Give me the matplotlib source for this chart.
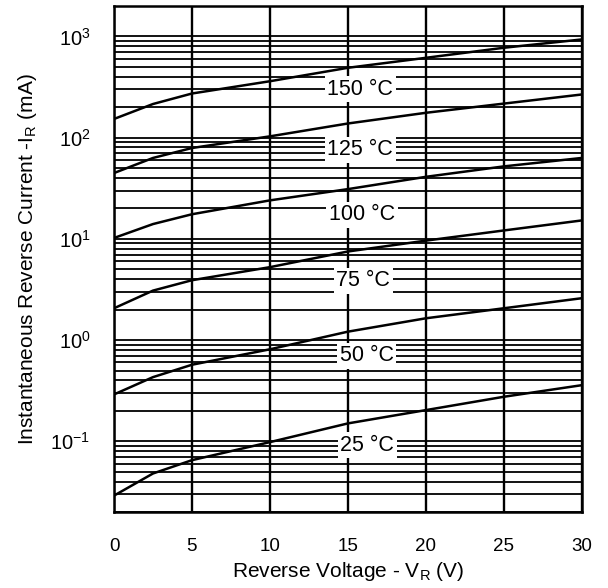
import numpy as np
import matplotlib
matplotlib.use('Agg')
import matplotlib.pyplot as plt
from matplotlib.ticker import LogLocator, MultipleLocator, NullFormatter

plt.rcParams['font.family'] = ['Liberation Sans', 'DejaVu Sans']
plt.rcParams['axes.unicode_minus'] = False

# Tension inverse (V)
v = [0, 2.5, 5, 10, 15, 20, 25, 30]

# Courant inverse (mA), une liste par temperature
i150 = [153, 215, 273, 361, 490, 615, 773, 934]
i125 = [44.7, 63, 79, 103, 138, 176, 217, 267]
i100 = [10.2, 14, 17.5, 24, 31, 41, 52, 63]
i75 = [2.06, 3.08, 3.9, 5.25, 7.5, 9.6, 12.1, 15.2]
i50 = [0.29, 0.43, 0.57, 0.81, 1.21, 1.64, 2.06, 2.59]
i25 = [0.029, 0.048, 0.065, 0.098, 0.15, 0.203, 0.275, 0.358]

courbes = [i150, i125, i100, i75, i50, i25]
etiquettes = ['150 °C', '125 °C', '100 °C', '75 °C', '50 °C', '25 °C']
pos_x = [15.8, 15.8, 15.9, 16.0, 16.2, 16.25]
pos_y = [300, 76, 17.3, 3.85, 0.70, 0.091]

fig = plt.figure(figsize=(6.08, 5.88), dpi=100)
ax = fig.add_axes([0.1875, 0.1293, 0.7692, 0.8605])

ax.set_yscale('log')
ax.set_xlim(0, 30)
ax.set_ylim(0.02, 2000)

ax.xaxis.set_major_locator(MultipleLocator(5))
ax.yaxis.set_major_locator(LogLocator(base=10, numticks=20))
ax.yaxis.set_minor_locator(LogLocator(base=10, subs=np.arange(2, 10), numticks=20))
ax.yaxis.set_minor_formatter(NullFormatter())

# grille
ax.grid(True, which='major', axis='x', color='black', linewidth=1.7, zorder=1)
ax.grid(True, which='both', axis='y', color='black', linewidth=1.3, zorder=1)
ax.set_axisbelow(True)

for c in courbes:
    ax.plot(v, c, color='black', linewidth=1.8, zorder=3)

for t, x, y in zip(etiquettes, pos_x, pos_y):
    ax.text(x, y, t, fontsize=15.5, ha='center', va='center', zorder=4,
            bbox=dict(boxstyle='square,pad=0.12', facecolor='white',
                      edgecolor='none'))

for s in ax.spines.values():
    s.set_linewidth(1.8)
    s.set_color('black')

ax.tick_params(axis='both', which='both', length=0)
ax.tick_params(axis='x', pad=19, labelsize=13.5)
ax.tick_params(axis='y', pad=17, labelsize=14.5)

ax.set_xlabel('Reverse Voltage - V$_\\mathregular{R}$ (V)', fontsize=15,
              labelpad=3)
ax.set_ylabel('Instantaneous Reverse Current -I$_\\mathregular{R}$ (mA)',
              fontsize=15, labelpad=8)

plt.savefig('out.png', dpi=100)
